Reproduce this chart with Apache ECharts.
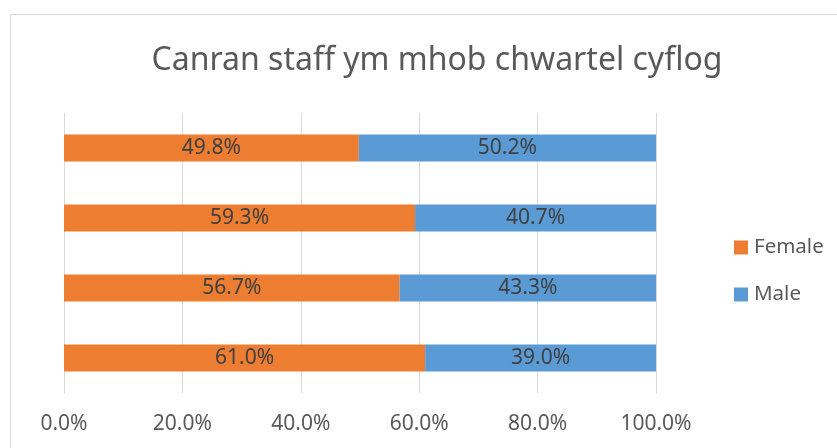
<!DOCTYPE html>
<html>
<head>
<meta charset="utf-8">
<script src="https://cdn.jsdelivr.net/npm/echarts@6/dist/echarts.min.js"></script>
<style>
  html, body { margin: 0; padding: 0; background: #fff; }
  #chart { width: 837px; height: 448px; }
</style>
</head>
<body>
<div id="chart"></div>
<script>
var titleText = 'Canran staff ym mhob chwartel cyflog';
var quartiles = ['Q4', 'Q3', 'Q2', 'Q1'];
var female = [49.8, 59.3, 56.7, 61.0];
var male = [50.2, 40.7, 43.3, 39.0];

var font = 'Noto Sans';
var textGrey = '#595959';

var chart = echarts.init(document.getElementById('chart'), null, { renderer: 'canvas' });

function pct(v) { return v.toFixed(1) + '%'; }

chart.setOption({
  animation: false,
  textStyle: { fontFamily: font },
  title: {
    text: titleText,
    left: 432,
    textAlign: 'center',
    top: 40,
    textStyle: { fontFamily: font, fontSize: 32, fontWeight: 'normal', color: textGrey }
  },
  graphic: [{
    type: 'rect',
    shape: { x: 10.5, y: 14.5, width: 900, height: 500 },
    style: { fill: 'none', stroke: '#d9d9d9', lineWidth: 1 },
    silent: true
  }],
  legend: {
    orient: 'vertical',
    left: 729,
    top: 232,
    itemWidth: 14,
    itemHeight: 14,
    itemGap: 26,
    icon: 'rect',
    data: ['Female', 'Male'],
    textStyle: { fontFamily: font, fontSize: 20.5, color: textGrey, padding: [0, 0, 0, 1] }
  },
  grid: { left: 64, right: 181, top: 113, bottom: 55 },
  xAxis: {
    type: 'value',
    min: 0,
    max: 100,
    interval: 20,
    axisLine: { show: false },
    axisTick: { show: false },
    axisLabel: {
      formatter: function(v) { return pct(v); },
      fontFamily: font, fontSize: 21, color: textGrey, margin: 21
    },
    splitLine: { lineStyle: { color: '#d9d9d9', width: 1 } }
  },
  yAxis: {
    type: 'category',
    data: quartiles,
    inverse: true,
    axisLine: { show: false },
    axisTick: { show: false },
    axisLabel: { show: false }
  },
  series: [
    {
      name: 'Female', type: 'bar', stack: 'all', barWidth: 27,
      data: female,
      itemStyle: { color: '#ED7D31' },
      label: { show: true, position: 'inside', formatter: function(p) { return pct(p.value); },
        fontFamily: font, fontSize: 21, color: '#404040' }
    },
    {
      name: 'Male', type: 'bar', stack: 'all', barWidth: 27,
      data: male,
      itemStyle: { color: '#5B9BD5' },
      label: { show: true, position: 'inside', formatter: function(p) { return pct(p.value); },
        fontFamily: font, fontSize: 21, color: '#404040' }
    }
  ]
});
window.addEventListener('resize', function() { chart.resize(); });
</script>
</body>
</html>
